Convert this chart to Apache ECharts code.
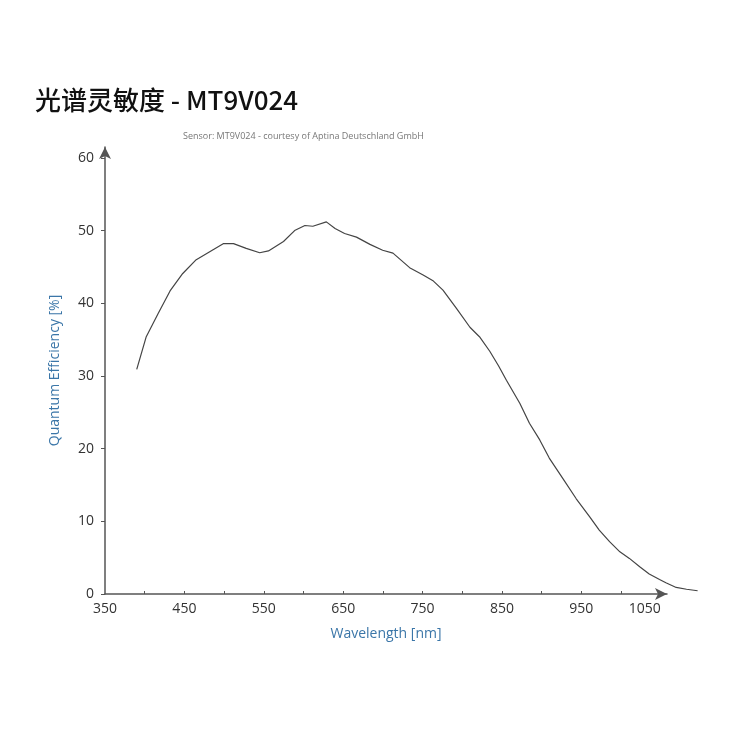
<!DOCTYPE html>
<html>
<head>
<meta charset="utf-8">
<script src="https://cdn.jsdelivr.net/npm/echarts@6/dist/echarts.min.js"></script>
<style>
  html, body { margin: 0; padding: 0; background: #fff; }
  #chart { width: 750px; height: 750px; }
</style>
</head>
<body>
<div id="chart"></div>
<script>
// wavelength (nm) and quantum efficiency (%)
const wavelength = [390, 402, 417, 432, 448, 465, 482, 499, 512, 528, 545, 556, 575, 589, 602, 612, 629, 640, 652, 667, 684, 700, 713, 734, 751, 764, 776, 793, 810, 822, 835, 846, 856, 873, 885, 898, 910, 927, 944, 961, 973, 986, 999, 1011, 1024, 1036, 1049, 1057, 1070, 1083, 1097];
const efficiency = [30.9, 35.4, 38.6, 41.7, 44.1, 46.0, 47.1, 48.2, 48.2, 47.55, 46.95, 47.2, 48.5, 50.0, 50.7, 50.6, 51.2, 50.3, 49.6, 49.1, 48.1, 47.3, 46.9, 44.9, 43.9, 43.05, 41.8, 39.3, 36.7, 35.4, 33.4, 31.4, 29.4, 26.2, 23.5, 21.2, 18.7, 15.9, 13.1, 10.6, 8.8, 7.2, 5.8, 4.9, 3.75, 2.75, 2.0, 1.55, 0.9, 0.65, 0.45];

const xTicks = [400, 450, 500, 550, 600, 650, 700, 750, 800, 850, 900, 950, 1000, 1050];
const xLabels = [350, 450, 550, 650, 750, 850, 950, 1050];
const yTicks = [0, 10, 20, 30, 40, 50, 60];

const blue = '#3b76a8';
const font = 'Open Sans, sans-serif';
const labelStyle = { color: '#333', fontSize: 14, fontFamily: font };
const axisColor = '#555';

// the curve runs past the arrow of the x axis, so it sits on a wider, hidden grid with the same scale
const chart = echarts.init(document.getElementById('chart'));
chart.setOption({
  animation: false,
  title: [
    {
      text: '光谱灵敏度 - MT9V024',
      left: 30, top: 82,
      textStyle: { fontSize: 26, fontWeight: 500, color: '#111', fontFamily: 'Noto Sans CJK SC' },
    },
    {
      text: 'Sensor: MT9V024 - courtesy of Aptina Deutschland GmbH',
      left: 178, top: 127,
      textStyle: { fontSize: 9, fontWeight: 'normal', color: '#777', fontFamily: font },
    },
  ],
  grid: [
    { left: 105, right: 83, top: 147, bottom: 156 },
    { left: 105, right: 50, top: 147, bottom: 156 },
  ],
  xAxis: [
    {
      type: 'value',
      gridIndex: 0,
      min: 350, max: 1058,
      name: 'Wavelength [nm]',
      nameLocation: 'middle',
      nameGap: 33,
      nameTextStyle: { color: blue, fontSize: 14, fontFamily: font },
      axisLine: { symbol: ['none', 'arrow'], symbolSize: [9, 12], lineStyle: { color: axisColor, width: 1.5 } },
      axisTick: { inside: true, length: 3, customValues: xTicks, lineStyle: { color: axisColor } },
      axisLabel: { ...labelStyle, margin: 8, customValues: xLabels, alignMaxLabel: 'right', formatter: (v) => String(v) },
      splitLine: { show: false },
    },
    {
      type: 'value',
      gridIndex: 1,
      min: 350, max: 1100,
      show: false,
    },
  ],
  yAxis: [
    {
      type: 'value',
      gridIndex: 0,
      min: 0, max: 61.5,
      name: 'Quantum Efficiency [%]',
      nameLocation: 'middle',
      nameGap: 43,
      nameTextStyle: { color: blue, fontSize: 14, fontFamily: font },
      axisLine: { show: true, symbol: ['none', 'arrow'], symbolSize: [9, 12], lineStyle: { color: axisColor, width: 1.5 } },
      axisTick: { show: true, length: 4, customValues: yTicks, lineStyle: { color: axisColor } },
      axisLabel: { ...labelStyle, margin: 11, customValues: yTicks },
      splitLine: { show: false },
    },
    {
      type: 'value',
      gridIndex: 1,
      min: 0, max: 61.5,
      show: false,
    },
  ],
  series: [{
    type: 'line',
    xAxisIndex: 1,
    yAxisIndex: 1,
    data: wavelength.map((w, i) => [w, efficiency[i]]),
    symbol: 'none',
    clip: false,
    lineStyle: { color: '#444', width: 1.2 },
  }],
});
</script>
</body>
</html>
